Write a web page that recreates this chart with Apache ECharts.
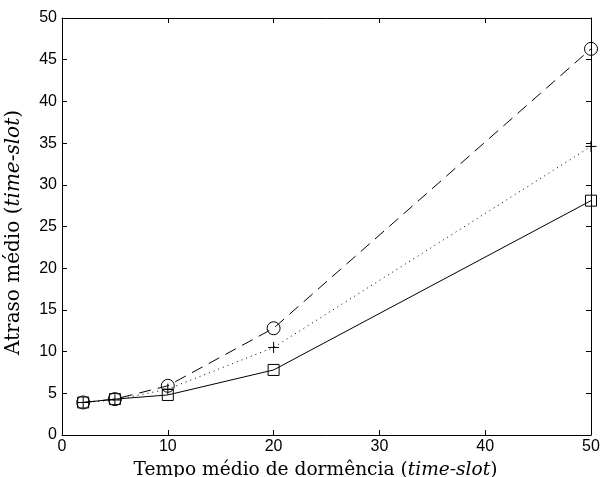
<!DOCTYPE html>
<html>
<head>
<meta charset="utf-8">
<script src="https://cdn.jsdelivr.net/npm/echarts@6/dist/echarts.min.js"></script>
<style>
  html, body { margin: 0; padding: 0; background: #fff; }
  #chart { width: 600px; height: 477px; }
</style>
</head>
<body>
<div id="chart"></div>
<script>
(function () {
    "use strict";

    var xValues = [2, 5, 10, 20, 50];
    var circleSeries = [3.9, 4.3, 5.9, 12.8, 46.3];
    var plusSeries = [3.9, 4.2, 5.5, 10.5, 34.6];
    var squareSeries = [3.9, 4.3, 4.8, 7.8, 28.1];

    function pairs(ys) {
        return xValues.map(function (x, i) { return [x, ys[i]]; });
    }

    var tickFont = { fontFamily: 'Liberation Sans', fontSize: 16, color: '#000' };
    function titleRich(size) {
        return {
            n: { fontFamily: 'DejaVu Serif', fontSize: size, color: '#000' },
            i: { fontFamily: 'DejaVu Serif', fontSize: size, fontStyle: 'italic', color: '#000' }
        };
    }
    var boxLine = { show: true, onZero: false, lineStyle: { color: '#000', width: 1 } };
    var tickIn = { show: true, inside: true, length: 5, lineStyle: { color: '#000' } };
    var hollow = { color: 'rgba(0,0,0,0)', borderColor: '#000', borderWidth: 1 };

    var myChart = echarts.init(document.getElementById('chart'));
    var option = {
        backgroundColor: '#fff',
        animation: false,
        grid: { left: 62, right: 9, top: 18, bottom: 42, outerBoundsMode: 'none', containLabel: false },
        xAxis: [
            {
                type: 'value', min: 0, max: 50, interval: 10,
                axisLine: boxLine, axisTick: tickIn, splitLine: { show: false },
                axisLabel: Object.assign({ margin: 4 }, tickFont),
                name: '{n|Tempo médio de dormência (}{i|time-slot}{n|)}',
                nameLocation: 'middle', nameGap: 26,
                nameTextStyle: { rich: titleRich(18.6), padding: [0, 22, 0, 0] }
            },
            {
                type: 'value', min: 0, max: 50, interval: 10, position: 'top',
                axisLine: boxLine, axisTick: tickIn, splitLine: { show: false },
                axisLabel: { show: false }
            }
        ],
        yAxis: [
            {
                type: 'value', min: 0, max: 50, interval: 5,
                axisLine: boxLine, axisTick: tickIn, splitLine: { show: false },
                axisLabel: Object.assign({ margin: 5 }, tickFont),
                name: '{n|Atraso médio (}{i|time-slot}{n|)}',
                nameLocation: 'middle', nameGap: 38, nameRotate: 90,
                nameTextStyle: { rich: titleRich(20), padding: [0, 12, 0, 0] }
            },
            {
                type: 'value', min: 0, max: 50, interval: 5, position: 'right',
                axisLine: boxLine, axisTick: tickIn, splitLine: { show: false },
                axisLabel: { show: false }
            }
        ],
        series: [
            {
                type: 'line', data: pairs(circleSeries),
                symbol: 'circle', symbolSize: 13, showAllSymbol: true,
                lineStyle: { color: '#000', width: 1, type: [12, 7] },
                itemStyle: hollow
            },
            {
                type: 'line', data: pairs(plusSeries),
                symbol: 'path://M5,0L5,10M0,5L10,5', symbolSize: 11,
                lineStyle: { color: '#000', width: 1, type: [1, 4] },
                itemStyle: hollow
            },
            {
                type: 'line', data: pairs(squareSeries),
                symbol: 'rect', symbolSize: 11,
                lineStyle: { color: '#000', width: 1, type: 'solid' },
                itemStyle: hollow
            }
        ]
    };
    myChart.setOption(option, true);
})();
</script>
</body>
</html>
